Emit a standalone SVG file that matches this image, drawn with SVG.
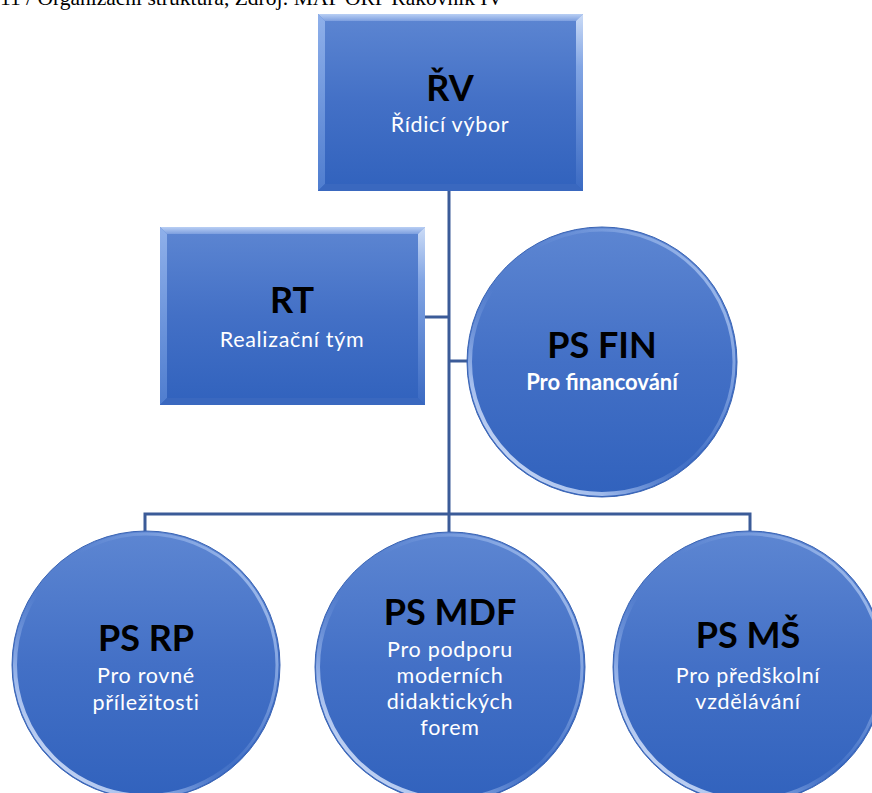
<svg xmlns="http://www.w3.org/2000/svg" width="872" height="793" viewBox="0 0 872 793">
<defs>
<linearGradient id="fillG" x1="0" y1="0" x2="0" y2="1">
<stop offset="0" stop-color="#5d86d2"/>
<stop offset="0.5" stop-color="#4370c6"/>
<stop offset="1" stop-color="#3162bd"/>
</linearGradient>
<linearGradient id="topBev" x1="0" y1="0" x2="0" y2="1">
<stop offset="0" stop-color="#b9cff4"/>
<stop offset="1" stop-color="#7d9fdf"/>
</linearGradient>
<linearGradient id="leftBev" x1="0" y1="0" x2="0" y2="1">
<stop offset="0" stop-color="#8fb0ea"/>
<stop offset="1" stop-color="#4f7dcf"/>
</linearGradient>
<linearGradient id="rightBev" x1="0" y1="0" x2="0" y2="1">
<stop offset="0" stop-color="#e6f0ff"/>
<stop offset="0.3" stop-color="#8fb0ea"/>
<stop offset="1" stop-color="#3d6cc4"/>
</linearGradient>
<linearGradient id="rimG" x1="0" y1="1" x2="0.6" y2="0.3">
<stop offset="0" stop-color="#ffffff" stop-opacity="0.95"/>
<stop offset="0.35" stop-color="#cfe0ff" stop-opacity="0.7"/>
<stop offset="0.7" stop-color="#8fb0ea" stop-opacity="0"/>
</linearGradient>
<linearGradient id="rimG2" x1="1" y1="0.2" x2="0.5" y2="0.5">
<stop offset="0" stop-color="#bcd2f7" stop-opacity="0.8"/>
<stop offset="1" stop-color="#8fb0ea" stop-opacity="0"/>
</linearGradient>
</defs>
<style>
.cap{font-family:"Liberation Serif","Times New Roman",serif;font-size:21.5px;fill:#000}
.hd{font-family:Lato,"Open Sans",sans-serif;font-weight:bold;font-size:36px;fill:#000;text-anchor:middle}
.sub{font-family:Lato,"Open Sans",sans-serif;font-size:21.5px;letter-spacing:0.7px;fill:#fff;text-anchor:middle}
.subb{font-family:Lato,"Open Sans",sans-serif;font-weight:bold;font-size:22px;fill:#fff;text-anchor:middle}
.box{fill:url(#fillG)}
.circ{fill:url(#fillG);stroke:#3a64b4;stroke-width:1}
.rim{fill:none;stroke:url(#rimG);stroke-width:4}
.rim2{fill:none;stroke:url(#rimG2);stroke-width:3}
.conn{fill:none;stroke:#3b5b98;stroke-width:3}
</style>

<text class="cap" x="0" y="5">11 / Organizační struktura, Zdroj: MAP ORP Rakovník IV</text>

<g id="connectors">
<path class="conn" d="M449 190 V514" stroke-width="3.5"/>
<path class="conn" d="M425 317 H449"/>
<path class="conn" d="M449 361 H468"/>
<path class="conn" d="M145 532 V514 H750 V532"/>
<path class="conn" d="M449 514 V532"/>
</g>

<g id="node-rv">
<rect class="box" x="318" y="14" width="265" height="177"/>
<path d="M318 14 H583 L576 21 H325 Z" fill="url(#topBev)"/>
<path d="M318 14 L325 21 V184 L318 191 Z" fill="url(#leftBev)"/>
<path d="M583 14 L576 21 V184 L583 191 Z" fill="url(#rightBev)" opacity="0.8"/>
<path d="M318 191 L325 184 H576 L583 191 Z" fill="#3a68bf"/>
<text class="hd" x="450" y="101">ŘV</text>
<text class="sub" x="450" y="132">Řídicí výbor</text>
</g>

<g id="node-rt">
<rect class="box" x="160" y="227" width="265" height="178"/>
<path d="M160 227 H425 L418 234 H167 Z" fill="url(#topBev)"/>
<path d="M160 227 L167 234 V398 L160 405 Z" fill="url(#leftBev)"/>
<path d="M425 227 L418 234 V398 L425 405 Z" fill="url(#rightBev)" opacity="0.8"/>
<path d="M160 405 L167 398 H418 L425 405 Z" fill="#3a68bf"/>
<text class="hd" x="292" y="313">RT</text>
<text class="sub" x="292" y="347">Realizační tým</text>
</g>

<g id="node-fin">
<circle class="circ" cx="602" cy="362" r="135"/>
<circle class="rim" cx="602" cy="362" r="132"/>
<circle class="rim2" cx="602" cy="362" r="132"/>
<text class="hd" x="602" y="358">PS FIN</text>
<text class="subb" x="602" y="390">Pro financování</text>
</g>

<g id="node-rp">
<circle class="circ" cx="146" cy="665" r="134"/>
<circle class="rim" cx="146" cy="665" r="131"/>
<circle class="rim2" cx="146" cy="665" r="131"/>
<text class="hd" x="146" y="651">PS RP</text>
<text class="sub" x="146" y="683">Pro rovné</text>
<text class="sub" x="146" y="710">příležitosti</text>
</g>

<g id="node-mdf">
<circle class="circ" cx="450" cy="667" r="135"/>
<circle class="rim" cx="450" cy="667" r="132"/>
<circle class="rim2" cx="450" cy="667" r="132"/>
<text class="hd" x="450" y="625">PS MDF</text>
<text class="sub" x="450" y="657">Pro podporu</text>
<text class="sub" x="450" y="683">moderních</text>
<text class="sub" x="450" y="709">didaktických</text>
<text class="sub" x="450" y="735">forem</text>
</g>

<g id="node-ms">
<circle class="circ" cx="749" cy="667" r="136"/>
<circle class="rim" cx="749" cy="667" r="133"/>
<circle class="rim2" cx="749" cy="667" r="133"/>
<text class="hd" x="748" y="648">PS MŠ</text>
<text class="sub" x="748" y="683">Pro předškolní</text>
<text class="sub" x="748" y="709">vzdělávání</text>
</g>
</svg>
